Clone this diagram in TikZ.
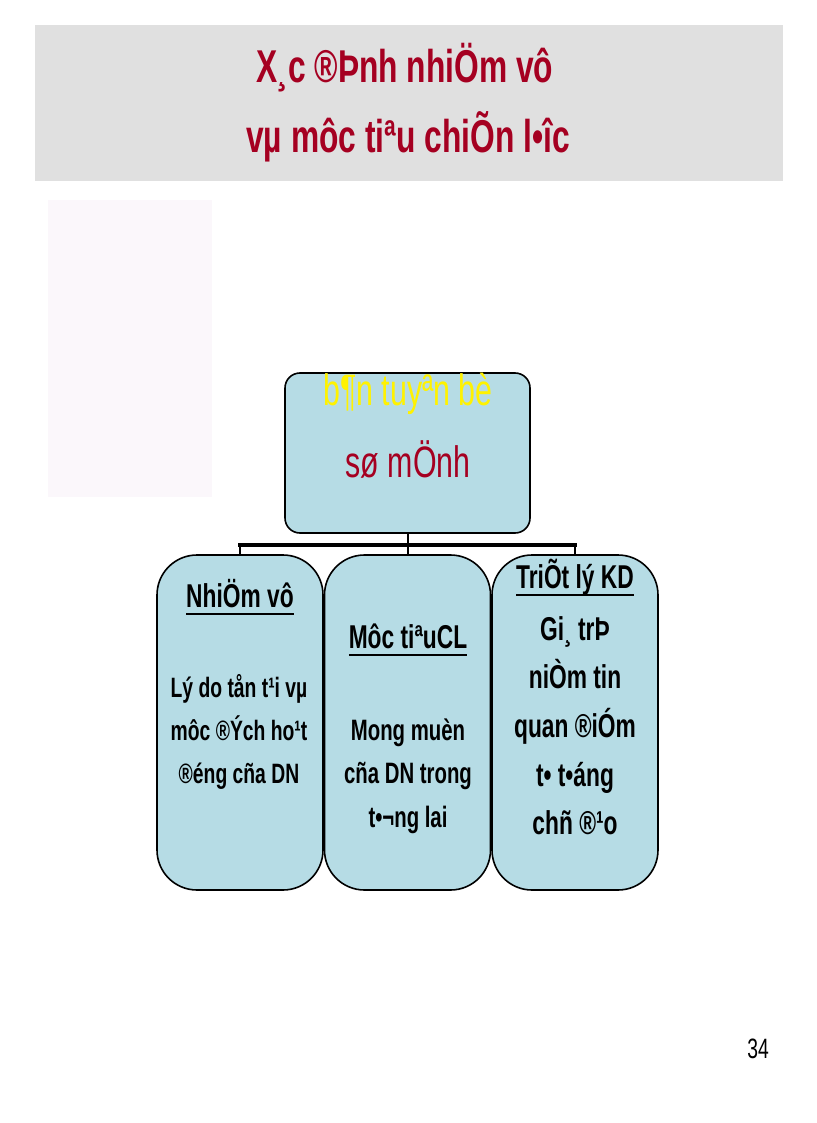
\documentclass[tikz,border=0pt]{standalone}
\usepackage{fontspec}
\setmainfont{Liberation Sans}[FakeStretch=0.69]
\usetikzlibrary{calc}
\definecolor{titlered}{RGB}{165,0,33}
\definecolor{boxblue}{RGB}{182,220,229}
\definecolor{bandgray}{RGB}{224,224,224}
\definecolor{panelpink}{RGB}{251,247,251}
\newcommand{\ulword}[1]{\setbox0=\hbox{#1}\rlap{\rule[-8pt]{\wd0}{2.5pt}}\box0}
\tikzset{
	chart/.style={draw=black, line width=1.6pt, fill=boxblue, inner sep=0pt},
	head/.style={anchor=base, inner sep=0pt, font=\fontsize{33}{33}\selectfont\bfseries},
	body/.style={anchor=base, inner sep=0pt, font=\fontsize{28}{28}\selectfont\bfseries},
	link/.style={line width=2pt},
	bus/.style={line width=4pt},
}

\begin{document}
\begin{tikzpicture}[x=1pt, y=-1pt]
			%%%%% START %%%%%
			\useasboundingbox (0, 0) rectangle (816, 1123);
			\fill[white] (0, 0) rectangle (816, 1123);
			
			\fill[bandgray] (35, 25) rectangle (783, 181);
			\node[anchor=base, inner sep=0pt, text=titlered, font=\fontsize{46}{46}\selectfont\bfseries] (title1) at (405, 83) {X¸c ®Þnh nhiÖm vô};
			\node[anchor=base, inner sep=0pt, text=titlered, font=\fontsize{46}{46}\selectfont\bfseries] (title2) at (408, 153) {vµ môc tiªu chiÕn l•îc};
			
			\fill[panelpink] (48, 200) rectangle (212, 497);
			
			\node[chart, rounded corners=15pt, minimum width=245pt, minimum height=160pt] (mission) at (407.5, 453) {};
			\node[anchor=base, inner sep=0pt, text=yellow, font=\fontsize{44}{44}\selectfont] (mission1) at (408, 405) {b¶n tuyªn bè};
			\node[anchor=base, inner sep=0pt, text=titlered, font=\fontsize{44}{44}\selectfont] (mission2) at (408, 477) {sø mÖnh};
			
			\node[chart, rounded corners=40pt, minimum width=166pt, minimum height=335pt] (duty) at (240, 722.5) {};
			\node[chart, rounded corners=40pt, minimum width=166pt, minimum height=335pt] (goal) at (407.5, 722.5) {};
			\node[chart, rounded corners=40pt, minimum width=166pt, minimum height=335pt] (creed) at (575, 722.5) {};
			
			\coordinate (bar) at (0, 545);
			\draw[link] (mission.south) -- (mission.south |- bar);
			\draw[bus] ([xshift=-2pt]duty.north |- bar) -- ([xshift=2pt]creed.north |- bar);
			\foreach \b in {duty, goal, creed}
				\draw[link] (\b.north |- bar) -- (\b.north);
			
			\node[head] (dutyhead) at (240, 607) {\ulword{NhiÖm vô}};
			\foreach \txt [count=\i] in {Lý do tån t¹i vµ, môc ®Ých ho¹t, ®éng cña DN}
				\node[body] (duty\i) at (239, {697+43*(\i-1)}) {\txt};
			
			\node[head] (goalhead) at (408, 648) {\ulword{Môc tiªuCL}};
			\foreach \txt [count=\i] in {Mong muèn, cña DN trong, t•¬ng lai}
				\node[body, font=\fontsize{29.5}{29.5}\selectfont\bfseries] (goal\i) at (408, {740+43.5*(\i-1)}) {\txt};
			
			\node[head] (creedhead) at (575, 588) {\ulword{TriÕt lý KD}};
			\foreach \txt [count=\i] in {Gi¸ trÞ, niÒm tin, quan ®iÓm, t• t•áng, chñ ®¹o}
				\node[head] (creed\i) at (575, {640+48.7*(\i-1)}) {\txt};
			
			\node[anchor=base, inner sep=0pt, font=\fontsize{28}{28}\selectfont] (pageno) at (758, 1058) {34};
			%%%%% END %%%%%
		\end{tikzpicture}
\end{document}
